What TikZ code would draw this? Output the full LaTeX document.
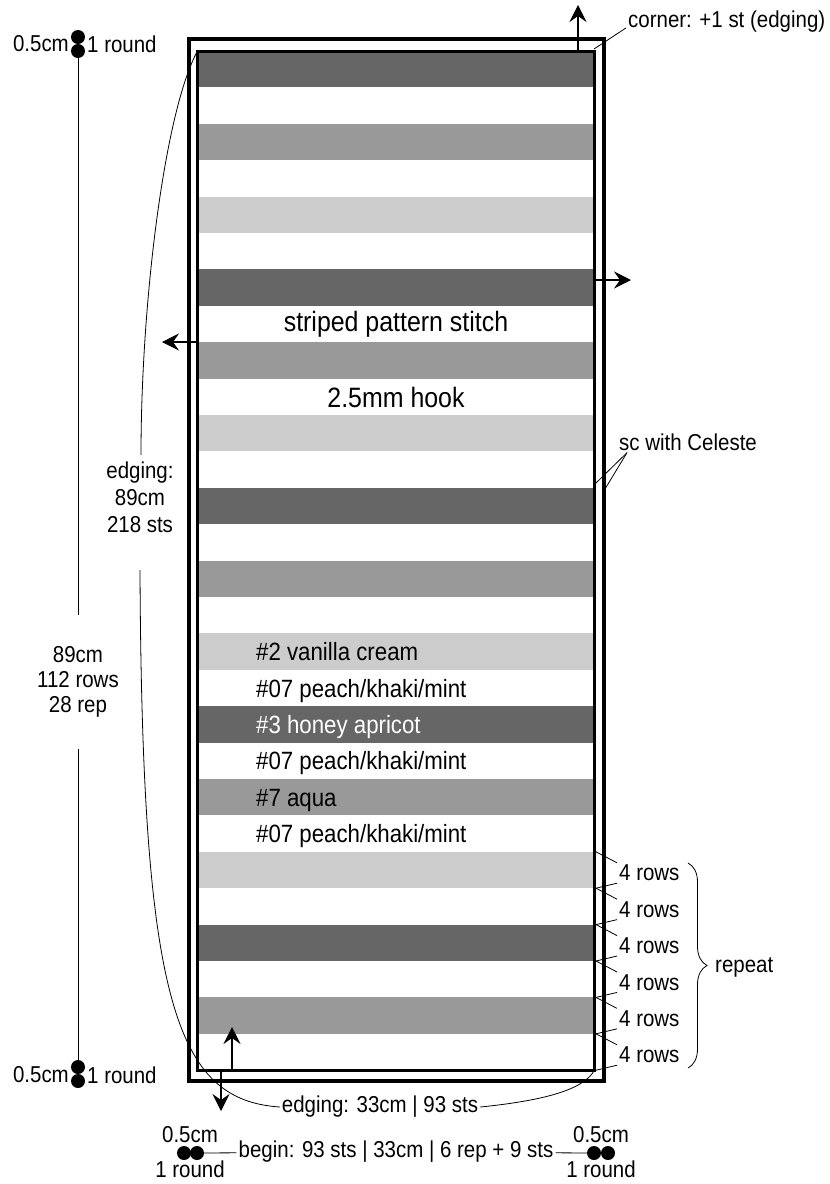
\documentclass[tikz,border=0pt]{standalone}
\usepackage{fontspec}
\setmainfont{Liberation Sans}[FakeStretch=0.89]
\usetikzlibrary{arrows.meta,positioning,decorations.pathreplacing}
\definecolor{darkstripe}{HTML}{666666}
\definecolor{midstripe}{HTML}{999999}
\definecolor{lightstripe}{HTML}{CCCCCC}

\begin{document}
\begin{tikzpicture}[
  x=1pt,y=-1pt,
  lbl/.style={inner sep=2pt,font=\fontsize{23}{25}\selectfont},
  stripelbl/.style={inner sep=2pt,anchor=base west,font=\fontsize{25}{27}\selectfont},
  title/.style={inner sep=2pt,font=\fontsize{28}{30}\selectfont},
  dot/.style={circle,fill=black,inner sep=0pt,minimum size=14pt},
  leader/.style={draw=black,line width=0.8pt},
  arrow/.style={-{Stealth[length=17pt,width=17pt,inset=6pt]},line width=1.1pt},
  outerframe/.style={draw=black,line width=4pt},
  innerframe/.style={draw=black,line width=3pt}
]
\useasboundingbox (0,0) rectangle (830,1184);

\coordinate (oNW) at (188.5,39);
\coordinate (oSE) at (604,1081);
\coordinate (iNW) at (197.5,51);
\coordinate (iSE) at (594.5,1070);

\foreach \i in {0,6,...,24}
  \fill[darkstripe] (197.5,{51+36.4*\i}) rectangle (594.5,{51+36.4*(\i+1)});
\foreach \i in {2,8,...,26}
  \fill[midstripe] (197.5,{51+36.4*\i}) rectangle (594.5,{51+36.4*(\i+1)});
\foreach \i in {4,10,...,22}
  \fill[lightstripe] (197.5,{51+36.4*\i}) rectangle (594.5,{51+36.4*(\i+1)});

\draw[outerframe] (oNW) rectangle (oSE);
\draw[innerframe] (iNW) rectangle (iSE);

\node[title] (stitch) at (396,324) {striped pattern stitch};
\node[title] (hook) at (396,397) {2.5mm hook};

\node[stripelbl] (vanilla) at (254,{51+36.4*16.5+9}) {\#2 vanilla cream};
\node[stripelbl] (peacha) at (254,{51+36.4*17.5+9}) {\#07 peach/khaki/mint};
\node[stripelbl,text=white] (honey) at (254,{51+36.4*18.5+9}) {\#3 honey apricot};
\node[stripelbl] (peachb) at (254,{51+36.4*19.5+9}) {\#07 peach/khaki/mint};
\node[stripelbl] (aqua) at (254,{51+36.4*20.5+9}) {\#7 aqua};
\node[stripelbl] (peachc) at (254,{51+36.4*21.5+9}) {\#07 peach/khaki/mint};

\coordinate (upS) at (578,51);
\coordinate (upE) at (578,5);
\coordinate (rightS) at (595,280);
\coordinate (rightE) at (631,280);
\coordinate (leftS) at (197,342);
\coordinate (leftE) at (162,342);
\coordinate (botupS) at (232,1070);
\coordinate (botupE) at (232,1027);
\coordinate (botdnS) at (221,1070);
\coordinate (botdnE) at (221,1111);
\draw[arrow] (upS) -- (upE);
\draw[arrow] (rightS) -- (rightE);
\draw[arrow] (leftS) -- (leftE);
\draw[arrow] (botupS) -- (botupE);
\draw[arrow] (botdnS) -- (botdnE);

\node[lbl,anchor=west] (corner) at (626,22) {corner: +1 st (edging)};
\coordinate (cornerpt) at (594,49);
\draw[leader] (corner.base west) -- (cornerpt);

\node[lbl,anchor=west] (celeste) at (617,442) {sc with Celeste};
\coordinate (celin) at (596,483);
\coordinate (celout) at (605,489);
\draw[leader] ([xshift=10pt]celeste.south west) -- (celin);
\draw[leader] ([xshift=10pt]celeste.south west) -- (celout);

\foreach \n in {22,...,27}
  \node[lbl,anchor=west] (rows\n) at (617,{51+36.4*(\n+0.5)+3}) {4 rows};
\foreach \n in {22,...,28}
  \coordinate (b\n) at (596,{51+36.4*\n});
\foreach \n [evaluate=\n as \m using int(\n+1)] in {22,...,27}{
  \draw[leader] (rows\n.north west) -- (b\n);
  \draw[leader] (rows\n.south west) -- (b\m);
}
\coordinate (braceTop) at (688,863);
\coordinate (braceBot) at (688,1068);
\draw[leader,decorate,decoration={brace,amplitude=19pt}] (braceTop) -- (braceBot);
\node[lbl,anchor=west] (repeat) at (713,967) {repeat};

\node[dot] (tl1) at (78,37) {};
\node[dot] (tl2) at (78,51) {};
\node[lbl,anchor=east] (tlcm) at (71,44) {0.5cm};
\node[lbl,anchor=west] (tlrd) at (85,44) {1 round};
\node[dot] (bl1) at (78,1067) {};
\node[dot] (bl2) at (78,1081) {};
\node[lbl,anchor=east] (blcm) at (71,1075) {0.5cm};
\node[lbl,anchor=west] (blrd) at (85,1075) {1 round};
\node[lbl,align=center,inner ysep=31pt] (len) at (78,682) {89cm\\112 rows\\28 rep};
\draw[leader] (tl2) -- (len);
\draw[leader] (len) -- (bl1);

\node[lbl,align=center,font=\fontsize{23}{27}\selectfont] (edgeL) at (140,497) {edging:\\89cm\\218 sts};
\coordinate (eTop) at (141,455);
\coordinate (eBot) at (140,570);
\node[lbl] (edgeB) at (380,1107) {edging: 33cm | 93 sts};
\draw[leader] (iNW) .. controls (165,110) and (141,300) .. (eTop);
\draw[leader] (eBot) .. controls (142,1000) and (175,1100) .. (edgeB.west);
\draw[leader] (edgeB.east) .. controls (550,1100) and (585,1088) .. (iSE);

\node[lbl] (begin) at (396,1152) {begin: 93 sts | 33cm | 6 rep + 9 sts};
\node[dot] (bb1) at (184,1153) {};
\node[dot] (bb2) at (197,1153) {};
\node[lbl] (bbcm) at (190,1135) {0.5cm};
\node[lbl] (bbrd) at (190,1169) {1 round};
\node[dot] (be1) at (594,1153) {};
\node[dot] (be2) at (608,1153) {};
\node[lbl] (becm) at (601,1135) {0.5cm};
\node[lbl] (berd) at (601,1169) {1 round};
\draw[leader] (bb2) -- (begin);
\draw[leader] (begin) -- (be1);
\end{tikzpicture}
\end{document}
